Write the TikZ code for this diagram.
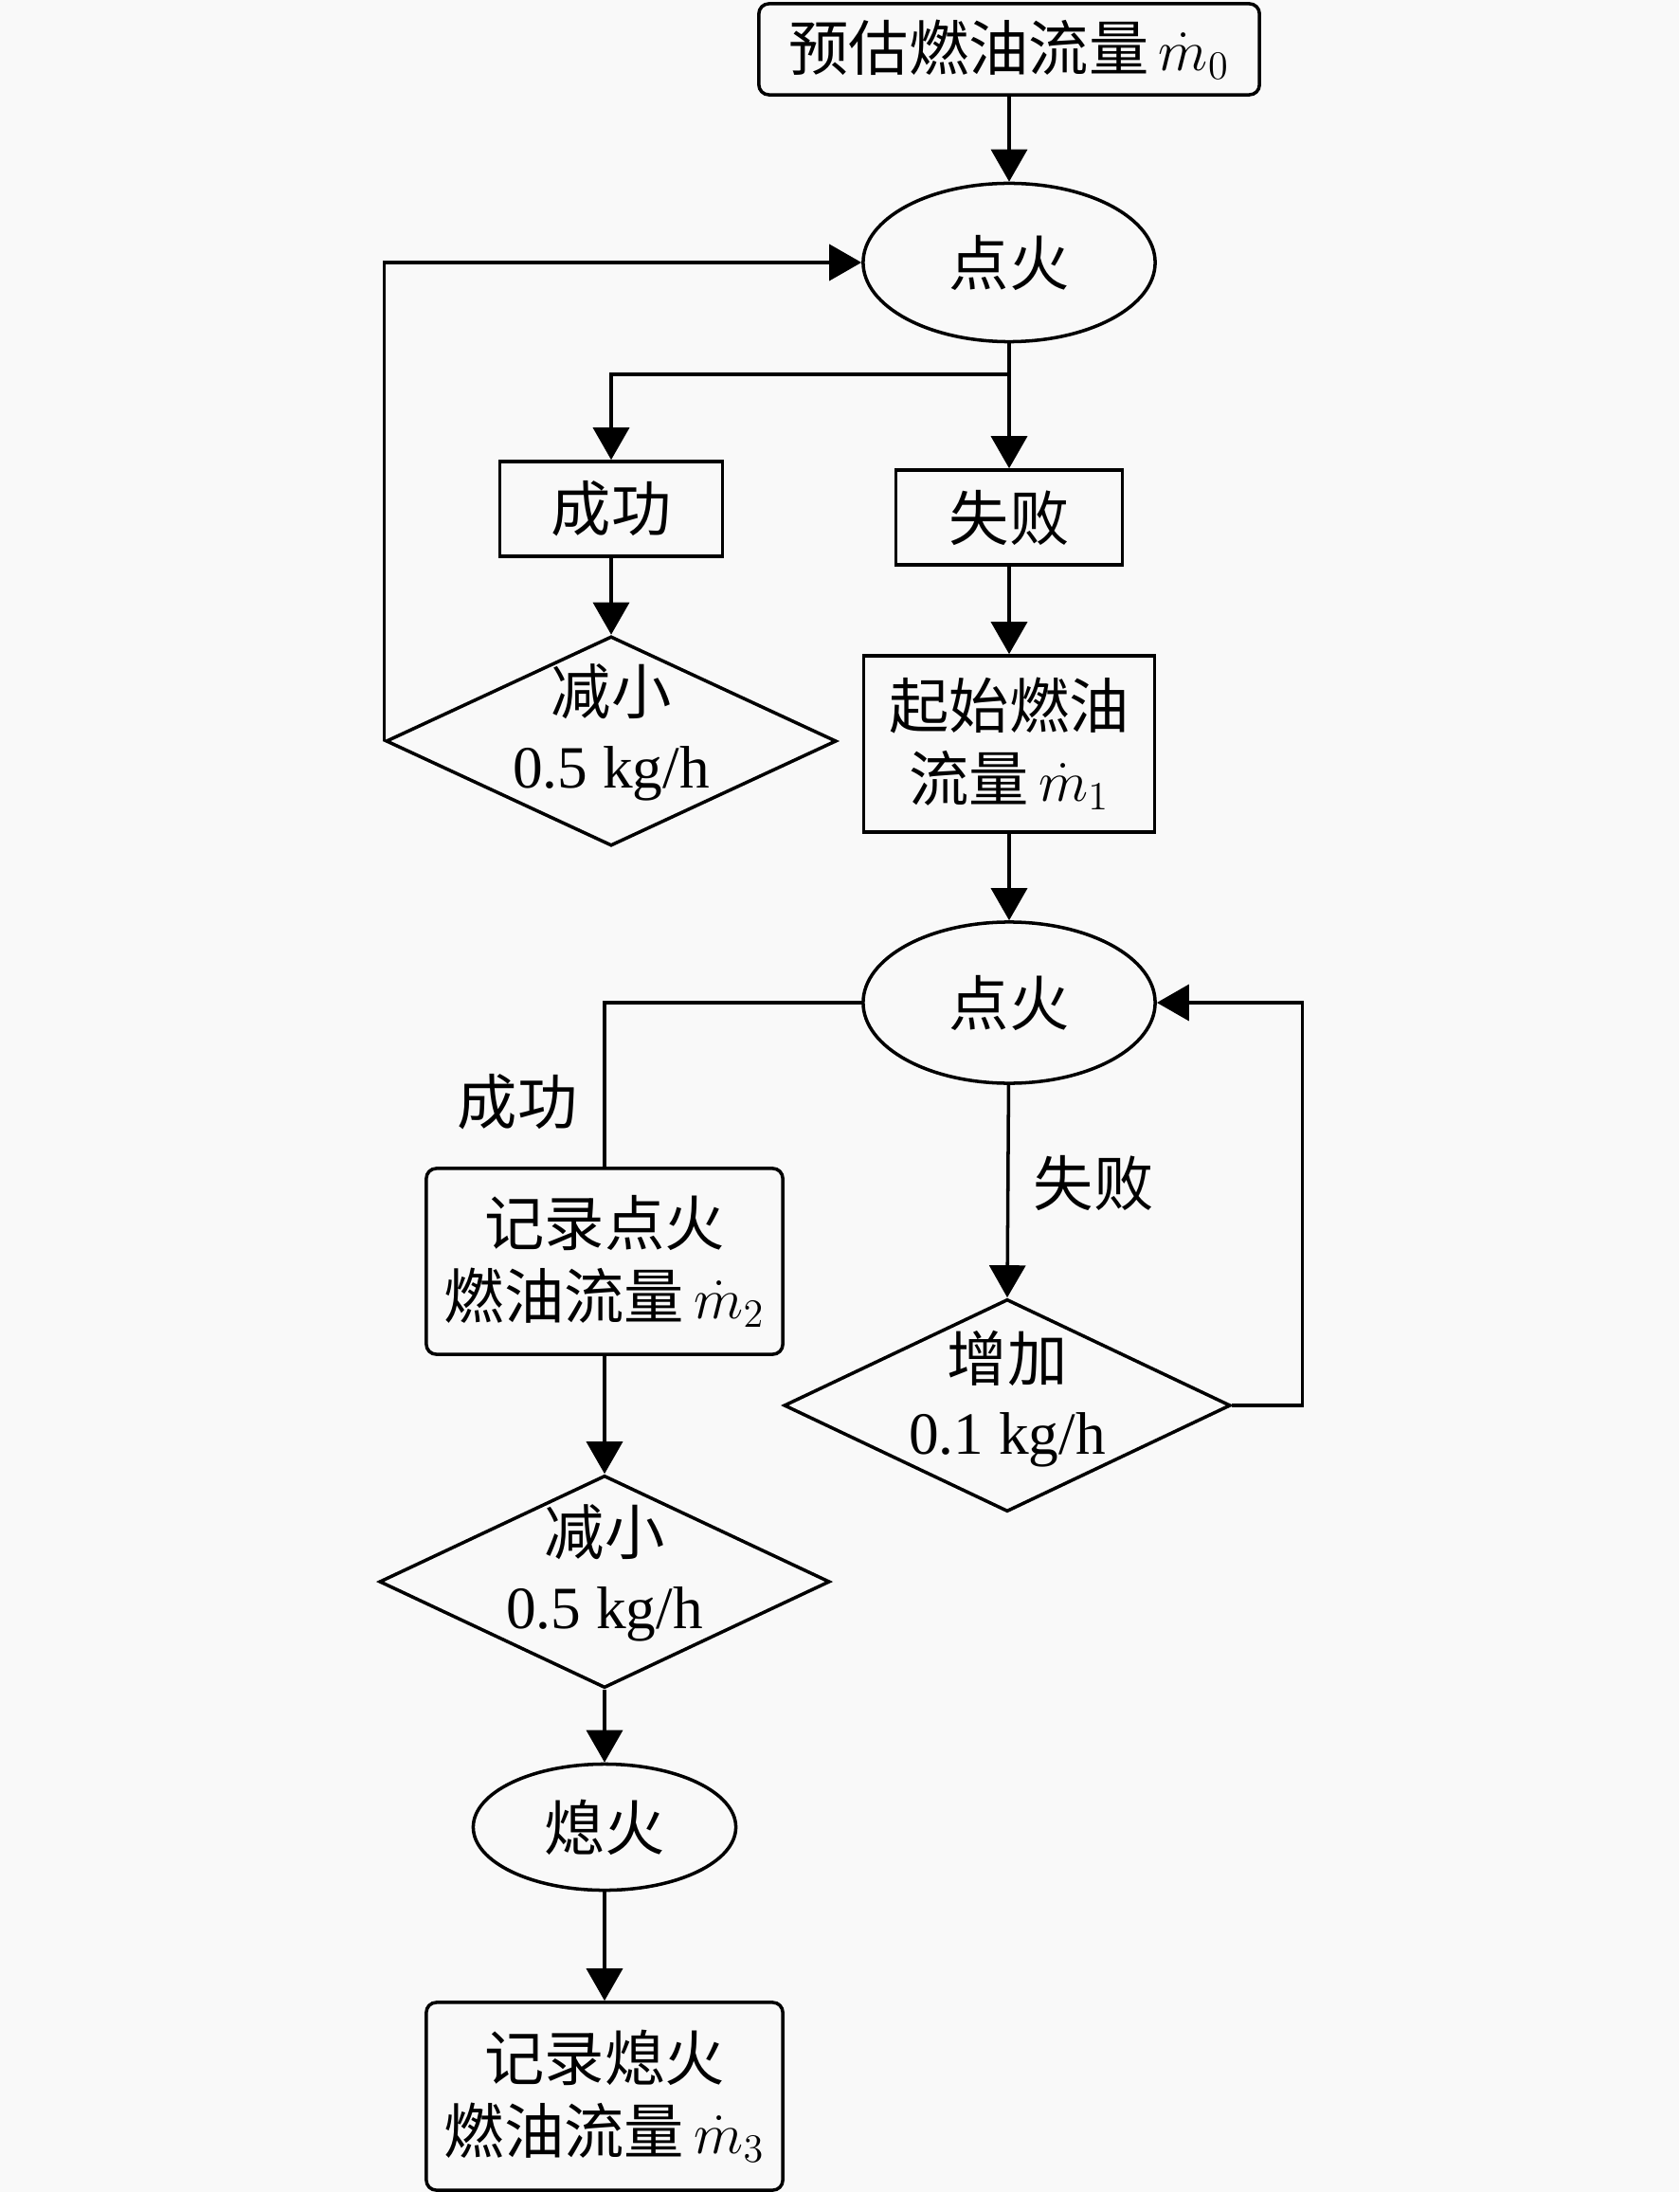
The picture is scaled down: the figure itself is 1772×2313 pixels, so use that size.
\documentclass[tikz,border=0pt]{standalone}
\usepackage{fontspec}
\setmainfont{Liberation Serif}
\newfontfamily\cjk{Noto Sans CJK SC}
\usetikzlibrary{shapes.geometric,arrows.meta}
\definecolor{bgcol}{RGB}{249,249,249}
\tikzset{
  sbox/.style={draw, rectangle, align=center},
  rbox/.style={sbox, rounded corners=3pt},
  oval/.style={draw, ellipse},
  dmd/.style={draw, diamond},
  arr/.style={-{Triangle[length=0.34cm,width=0.38cm]}}
}
\begin{document}
\begin{tikzpicture}[x=0.01cm, y=-0.01cm, line width=1pt,
  every node/.style={font=\fontsize{18}{22}\selectfont, inner sep=0pt}]

\fill[bgcol] (0,0) rectangle (1772,2313);

\node[rbox, minimum width=5.28cm, minimum height=0.96cm] (est) at (1065,52) {{\cjk 预估燃油流量}\,$\dot{m}_0$};
\node[oval, minimum width=3.08cm, minimum height=1.67cm] (fire1) at (1065,277) {\cjk 点火};
\coordinate (split) at (1065,395);
\node[sbox, minimum width=2.35cm, minimum height=1.00cm] (ok1) at (645,537) {\cjk 成功};
\node[sbox, minimum width=2.39cm, minimum height=1.00cm] (fail1) at (1065,546) {\cjk 失败};
\node[dmd, minimum width=4.75cm, minimum height=2.21cm] (dec1) at (645,782) {};
\node[align=center] (dec1txt) at (645,773) {{\cjk 减小}\\0.5 kg/h};
\node[sbox, minimum width=3.07cm, minimum height=1.86cm] (start) at (1065,785) {{\cjk 起始燃油}\\{\cjk 流量}\,$\dot{m}_1$};

\node[oval, minimum width=3.08cm, minimum height=1.70cm] (fire2) at (1065,1058) {\cjk 点火};
\node (lblok) at (546,1163) {\cjk 成功};
\node (lblfail) at (1154,1248) {\cjk 失败};
\node[rbox, minimum width=3.76cm, minimum height=1.96cm] (rec1) at (638,1331) {{\cjk 记录点火}\\{\cjk 燃油流量}\,$\dot{m}_2$};
\node[dmd, minimum width=4.71cm, minimum height=2.24cm] (dec2) at (1063,1483) {};
\node[align=center] (dec2txt) at (1063,1476) {{\cjk 增加}\\0.1 kg/h};
\node[dmd, minimum width=4.75cm, minimum height=2.24cm] (dec3) at (638,1669) {};
\node[align=center] (dec3txt) at (638,1660) {{\cjk 减小}\\0.5 kg/h};
\node[oval, minimum width=2.77cm, minimum height=1.33cm] (out) at (638,1928) {\cjk 熄火};
\node[rbox, minimum width=3.76cm, minimum height=1.98cm] (rec2) at (638,2212) {{\cjk 记录熄火}\\{\cjk 燃油流量}\,$\dot{m}_3$};

\draw[arr] (est) -- (fire1);
\draw[arr] (fire1) -- (fail1);
\draw[arr] (split) -| (ok1.north);
\draw[arr] (ok1) -- (dec1.north);
\draw[arr] (dec1.west) |- (fire1.west);
\draw[arr] (fail1) -- (start);
\draw[arr] (start) -- (fire2);
\draw (fire2.west) -| (rec1.north);
\draw[arr] (fire2) -- (dec2.north);
\draw[arr] (dec2.east) -- ++(74,0) |- (fire2.east);
\draw[arr] (rec1) -- (dec3.north);
\draw[arr] (dec3) -- (out);
\draw[arr] (out) -- (rec2);
\end{tikzpicture}
\end{document}
